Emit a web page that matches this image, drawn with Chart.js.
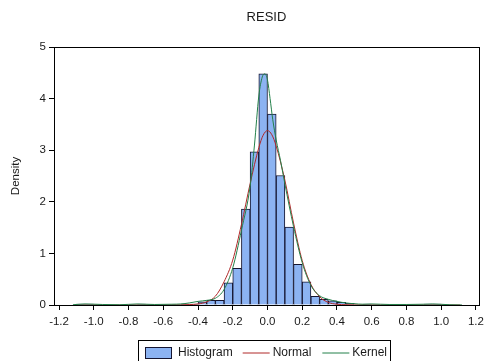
<!DOCTYPE html>
<html><head><meta charset="utf-8">
<script src="https://cdn.jsdelivr.net/npm/chart.js@4/dist/chart.umd.min.js"></script>
<style>html,body{margin:0;padding:0;background:#fff}canvas{display:block}</style>
</head><body>
<canvas id="c" width="489" height="361"></canvas>
<script>
// ---- data ----
const chartTitle = 'RESID';
const yAxisTitle = 'Density';
const seriesLabels = ['Histogram', 'Normal', 'Kernel'];
const binCenters = [-1.075, -1.025, -0.775, -0.725, -0.675, -0.525, -0.475, -0.425, -0.375, -0.325, -0.275,
  -0.225, -0.175, -0.125, -0.075, -0.025, 0.025, 0.075, 0.125, 0.175, 0.225, 0.275, 0.325, 0.375, 0.425,
  0.475, 0.575, 0.625, 0.775, 0.925, 0.975];
const binDensity = [0.02, 0.02, 0.01, 0.02, 0.01, 0.01, 0.02, 0.02, 0.06, 0.09, 0.09,
  0.43, 0.71, 1.86, 2.97, 4.48, 3.70, 2.51, 1.51, 0.79, 0.45, 0.17, 0.11, 0.08, 0.05,
  0.03, 0.02, 0.01, 0.01, 0.02, 0.02];
const normalX = [-1.11, -0.6, -0.5, -0.45, -0.4, -0.35, -0.3, -0.25, -0.2, -0.15, -0.1, -0.05, -0.025, 0,
  0.025, 0.05, 0.1, 0.15, 0.2, 0.25, 0.3, 0.35, 0.4, 0.45, 0.5, 0.6, 1.11];
const normalY = [0, 0, 0.003, 0.008, 0.02, 0.06, 0.17, 0.45, 0.87, 1.56, 2.35, 3.05, 3.29, 3.38,
  3.30, 3.08, 2.42, 1.59, 0.86, 0.40, 0.16, 0.05, 0.015, 0.005, 0.002, 0, 0];
const kernelX = [-1.12, -1.05, -0.95, -0.85, -0.75, -0.65, -0.55, -0.5, -0.45, -0.4, -0.35, -0.3, -0.25,
  -0.2, -0.15, -0.1, -0.075, -0.05, -0.03, -0.015, 0, 0.015, 0.03, 0.05, 0.075, 0.1, 0.15, 0.2, 0.25,
  0.3, 0.35, 0.4, 0.45, 0.5, 0.55, 0.6, 0.7, 0.8, 0.9, 0.95, 1.05, 1.12];
const kernelY = [0.005, 0.02, 0.01, 0.005, 0.02, 0.01, 0.015, 0.02, 0.04, 0.07, 0.09, 0.13, 0.3,
  0.72, 1.45, 2.3, 3.1, 4.05, 4.42, 4.48, 4.36, 4.0, 3.6, 3.2, 2.8, 2.35, 1.52, 0.82, 0.38,
  0.18, 0.11, 0.07, 0.04, 0.025, 0.015, 0.02, 0.01, 0.01, 0.015, 0.02, 0.005, 0];
const xTickValues = [-1.2, -1.0, -0.8, -0.6, -0.4, -0.2, 0.0, 0.2, 0.4, 0.6, 0.8, 1.0, 1.2];
const yTickValues = [0, 1, 2, 3, 4, 5];
const xRange = [-1.229, 1.217];

// ---- styles ----
const FONT = "'Liberation Sans', Arial, sans-serif";
const barFill = '#8cb3f2';
const barEdge = '#151530';
const normalColor = '#b02828';
const kernelColor = '#23804a';
const textColor = '#1a1a1a';

const framePlugin = {
  id: 'frame',
  afterDraw(chart) {
    const {ctx, chartArea: a} = chart;
    ctx.save();
    ctx.strokeStyle = '#000';
    ctx.lineWidth = 1;
    ctx.strokeRect(Math.round(a.left) + 0.5, Math.round(a.top) + 0.5,
      Math.round(a.right - a.left), Math.round(a.bottom - a.top));
    ctx.restore();
  }
};

const legendPlugin = {
  id: 'boxLegend',
  afterDraw(chart) {
    const ctx = chart.ctx;
    const ds = chart.data.datasets;
    ctx.save();
    ctx.font = '12px ' + FONT;
    ctx.textBaseline = 'middle';
    ctx.fillStyle = textColor;
    const cy = 352.5;
    const boxLeft = 138;
    let x = boxLeft + 7;
    ctx.fillStyle = ds[0].backgroundColor;
    ctx.fillRect(x, 347, 26, 11);
    ctx.strokeStyle = ds[0].borderColor;
    ctx.lineWidth = 1;
    ctx.strokeRect(x + 0.5, 347.5, 26, 11);
    x += 26 + 7;
    ctx.fillStyle = textColor;
    ctx.fillText(ds[0].label, x, cy);
    x += ctx.measureText(ds[0].label).width + 10;
    for (let i = 1; i < ds.length; i++) {
      ctx.strokeStyle = ds[i].borderColor;
      ctx.beginPath();
      ctx.moveTo(x, cy + 0.5);
      ctx.lineTo(x + 27, cy + 0.5);
      ctx.stroke();
      x += 27 + 3;
      ctx.fillStyle = textColor;
      ctx.fillText(ds[i].label, x, cy);
      x += ctx.measureText(ds[i].label).width + (i < ds.length - 1 ? 11 : 3);
    }
    ctx.strokeStyle = '#000';
    ctx.strokeRect(boxLeft + 0.5, 340.5, Math.round(x - boxLeft), 30);
    ctx.restore();
  }
};

new Chart(document.getElementById('c'), {
  type: 'bar',
  data: {
    datasets: [
      {
        type: 'bar', label: seriesLabels[0], order: 3,
        data: binCenters.map((c, i) => ({x: c, y: binDensity[i]})),
        backgroundColor: barFill, borderColor: barEdge, borderWidth: 1,
        barPercentage: 1, categoryPercentage: 1, grouped: false
      },
      {
        type: 'line', label: seriesLabels[1], order: 2,
        data: normalX.map((v, i) => ({x: v, y: normalY[i]})),
        borderColor: normalColor, borderWidth: 1, pointRadius: 0,
        cubicInterpolationMode: 'monotone', fill: false
      },
      {
        type: 'line', label: seriesLabels[2], order: 1,
        data: kernelX.map((v, i) => ({x: v, y: kernelY[i]})),
        borderColor: kernelColor, borderWidth: 1, pointRadius: 0,
        cubicInterpolationMode: 'monotone', fill: false
      }
    ]
  },
  options: {
    responsive: false,
    animation: false,
    devicePixelRatio: 1,
    layout: {padding: {left: 0, right: 7, top: 0, bottom: 0}},
    plugins: {
      legend: {display: false},
      tooltip: {enabled: false},
      title: {
        display: true, text: chartTitle, fullSize: false, color: textColor,
        font: {family: FONT, size: 13, weight: 'normal', lineHeight: 1.2},
        padding: {top: 10, bottom: 21.4}
      }
    },
    scales: {
      x: {
        type: 'linear', min: xRange[0], max: xRange[1], offset: false,
        grid: {drawOnChartArea: false, drawTicks: true, tickLength: 5, color: '#000', offset: false},
        border: {display: true, color: '#000'},
        ticks: {
          color: textColor, font: {family: FONT, size: 11.5}, padding: 5,
          maxRotation: 0, autoSkip: false,
          callback: (v) => Number(v).toFixed(1)
        },
        afterBuildTicks: (s) => { s.ticks = xTickValues.map(v => ({value: v})); },
        afterFit: (s) => { s.height = 56; }
      },
      y: {
        type: 'linear', min: yTickValues[0], max: yTickValues[yTickValues.length - 1],
        grid: {drawOnChartArea: false, drawTicks: true, tickLength: 5, color: '#000'},
        border: {display: true, color: '#000'},
        ticks: {color: textColor, font: {family: FONT, size: 11.5}, padding: 3,
          callback: (v) => String(v)},
        afterBuildTicks: (s) => { s.ticks = yTickValues.map(v => ({value: v})); },
        title: {display: true, text: yAxisTitle, color: textColor,
          font: {family: FONT, size: 11.5, lineHeight: 1.2}, padding: {top: 9, bottom: 0}},
        afterFit: (s) => { s.width = 54; }
      }
    }
  },
  plugins: [framePlugin, legendPlugin]
});
</script>
</body></html>
